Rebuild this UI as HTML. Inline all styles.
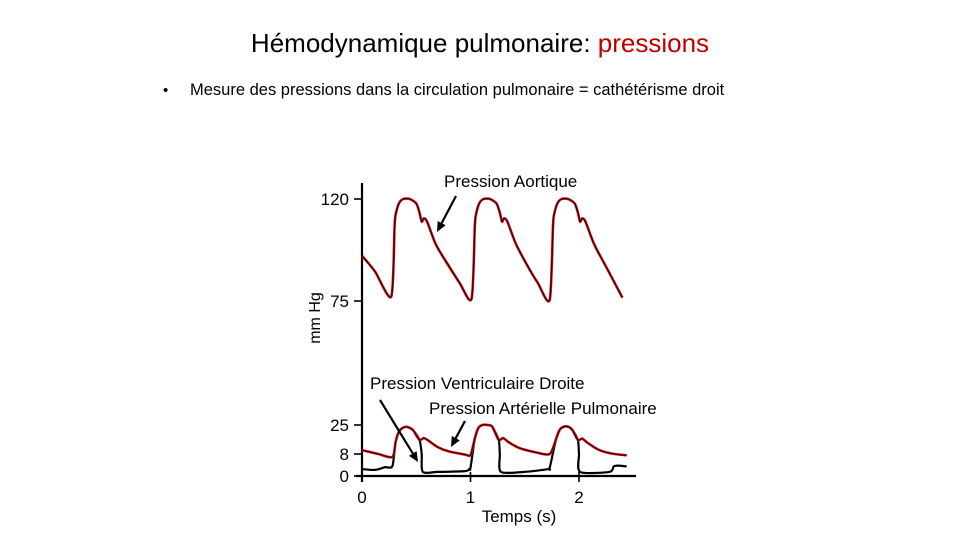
<!DOCTYPE html>
<html><head><meta charset="utf-8">
<style>
html,body{margin:0;padding:0;background:#fff;}
body{width:960px;height:540px;position:relative;overflow:hidden;font-family:"Liberation Sans",sans-serif;}
.title{position:absolute;top:28px;left:0;width:960px;text-align:center;font-size:26px;color:#000;}
.title span{color:#c00000;}
.bullet{position:absolute;left:163px;top:82px;font-size:15px;}
.btext{position:absolute;left:190px;top:81px;font-size:16.5px;}
svg{position:absolute;left:0;top:0;}
</style></head><body>
<div class="title">Hémodynamique pulmonaire: <span>pressions</span></div>
<div class="bullet">•</div>
<div class="btext">Mesure des pressions dans la circulation pulmonaire = cathétérisme droit</div>
<svg id="chart" width="960" height="540"></svg>
<script>
// Data
const xTicks = [0, 1, 2];
const yTicksLow = [0, 8, 25];
const yTicksHigh = [75, 120];
const aoTime = [0,0.12,0.27,0.30,0.31,0.34,0.38,0.44,0.50,0.53,0.55,0.57,0.60,0.68,0.78,0.90,1.01,
 1.04,1.05,1.08,1.12,1.18,1.24,1.27,1.29,1.31,1.34,1.42,1.52,1.62,1.73,
 1.76,1.77,1.80,1.84,1.90,1.96,1.99,2.01,2.03,2.06,2.14,2.24,2.40];
const aoVal = [95,88,77,108,113,118,120,120,118,114,110,111.5,110,100,92,83,76,
 108,113,118,120,120,118,114,110,111.5,110,100,91,83,75.5,
 108,113,118,120,120,118,114,110,111.5,110,100,91,76.5];
const paTime = [0,0.15,0.28,0.31,0.34,0.38,0.42,0.47,0.53,0.57,0.62,0.70,0.80,0.95,1.0,1.04,1.07,1.11,1.16,1.20,1.26,1.30,1.35,1.45,1.60,1.73,1.79,1.82,1.86,1.90,1.94,1.99,2.03,2.08,2.18,2.30,2.44];
const paVal = [10.3,8,6.9,15,21,23.5,23.8,22,16.2,17.4,15.5,12,9.5,7.8,7.6,17,23,25,25,24,16.2,17.4,15,11.5,9,8,17,22,24,24,22,16.2,17,14.5,10.5,8.3,7.5];
const rvTime = [0,0.12,0.21,0.28,0.31,0.34,0.38,0.42,0.47,0.53,0.55,0.56,0.70,0.95,0.99,1.0,1.04,1.07,1.11,1.16,1.20,1.26,1.27,1.28,1.50,1.72,1.73,1.79,1.82,1.86,1.90,1.94,1.99,2.0,2.01,2.28,2.32,2.36,2.44];
const rvVal = [2.5,2.2,3.2,3.6,15,21,23.5,23.8,22,16.2,8,1.5,1.5,1.8,2.5,3,17,23,25,25,24,16.2,8,1.5,1.5,2.5,3,17,22,24,24,22,16.2,8,1.5,1.5,3.5,3.8,3.5];
const svg = document.getElementById('chart');
const NS = 'http://www.w3.org/2000/svg';
const x0 = 362, pxPerSec = 108.5;
function xs(t){ return x0 + t * pxPerSec; }
function ysLow(v){
  const vs=[0,8,25], ps=[476,454,425];
  if(v<=8) return ps[0]+(v-vs[0])*(ps[1]-ps[0])/(vs[1]-vs[0]);
  return ps[1]+(v-vs[1])*(ps[2]-ps[1])/(vs[2]-vs[1]);
}
function ysHigh(v){ return 301 + (v-75)*(199-301)/(120-75); }
function el(tag, attrs){ const e=document.createElementNS(NS,tag); for(const k in attrs) e.setAttribute(k,attrs[k]); svg.appendChild(e); return e; }
function txt(s,x,y,size,anchor){ const t=el('text',{x:x,y:y,'font-size':size,'text-anchor':anchor||'start','font-family':'Liberation Sans, Arial, sans-serif',fill:'#000'}); t.textContent=s; return t; }
function pathD(ts,vs,ys){
  const P=ts.map((t,i)=>[xs(t),ys(vs[i])]);
  let d='M'+P[0][0].toFixed(1)+' '+P[0][1].toFixed(1);
  const k=1/8;
  for(let i=0;i<P.length-1;i++){
    const p0=P[i-1]||P[i], p1=P[i], p2=P[i+1], p3=P[i+2]||P[i+1];
    const c1=[p1[0]+(p2[0]-p0[0])*k, p1[1]+(p2[1]-p0[1])*k];
    const c2=[p2[0]-(p3[0]-p1[0])*k, p2[1]-(p3[1]-p1[1])*k];
    d+=' C'+c1[0].toFixed(1)+' '+c1[1].toFixed(1)+' '+c2[0].toFixed(1)+' '+c2[1].toFixed(1)+' '+p2[0].toFixed(1)+' '+p2[1].toFixed(1);
  }
  return d;
}

// axes
let a=el('line',{x1:362,y1:183,x2:362,y2:482,stroke:'#000','stroke-width':2.2});
 
a=el('line',{x1:356,y1:476,x2:636,y2:476,stroke:'#000','stroke-width':2.2});
 
xTicks.forEach(v=>{
  const l=el('line',{x1:xs(v),y1:472,x2:xs(v),y2:482,stroke:'#000','stroke-width':1.6});
   
  const t=txt(String(v),xs(v),503,17,'middle');
   
});
yTicksLow.forEach(v=>{
  const l=el('line',{x1:354,y1:ysLow(v),x2:362,y2:ysLow(v),stroke:'#000','stroke-width':1.6});
   
  const t=txt(String(v),349,ysLow(v)+6,17,'end');
   
});
yTicksHigh.forEach(v=>{
  const l=el('line',{x1:354,y1:ysHigh(v),x2:362,y2:ysHigh(v),stroke:'#000','stroke-width':1.6});
   
  const t=txt(String(v),349,ysHigh(v)+6,17,'end');
   
});
let t=txt('mm Hg',0,0,16,'middle');
t.setAttribute('transform','translate(320,318) rotate(-90)');
 
t=txt('Temps (s)',519,522,17,'middle');
 

// series
let p=el('path',{d:pathD(aoTime,aoVal,ysHigh),fill:'none',stroke:'#e8101e','stroke-width':2.6,'stroke-linejoin':'round'});
 
p=el('path',{d:pathD(aoTime,aoVal,ysHigh),fill:'none',stroke:'#200','stroke-width':1.2,'stroke-linejoin':'round'});
 
p=el('path',{d:pathD(rvTime,rvVal,ysLow),fill:'none',stroke:'#000','stroke-width':2.2,'stroke-linejoin':'round'});
 
p=el('path',{d:pathD(paTime,paVal,ysLow),fill:'none',stroke:'#e8101e','stroke-width':2.6,'stroke-linejoin':'round'});
 
p=el('path',{d:pathD(paTime,paVal,ysLow),fill:'none',stroke:'#200','stroke-width':1.1,'stroke-linejoin':'round'});
 

// annotations
function arrow(x1,y1,x2,y2,name){
  const g=el('g',{});
   
  const ang=Math.atan2(y2-y1,x2-x1), L=10, W=4.5;
  const bx=x2-L*Math.cos(ang), by=y2-L*Math.sin(ang);
  const l=document.createElementNS(NS,'line');
  l.setAttribute('x1',x1);l.setAttribute('y1',y1);l.setAttribute('x2',bx);l.setAttribute('y2',by);
  l.setAttribute('stroke','#000');l.setAttribute('stroke-width',2.2);
  g.appendChild(l);
  const h=document.createElementNS(NS,'polygon');
  h.setAttribute('points',`${x2},${y2} ${bx+W*Math.sin(ang)},${by-W*Math.cos(ang)} ${bx-W*Math.sin(ang)},${by+W*Math.cos(ang)}`);
  h.setAttribute('fill','#000'); g.appendChild(h);
}
t=txt('Pression Aortique',444,187,17);
 
arrow(456,196,437,232,'aortic-arrow');
t=txt('Pression Ventriculaire Droite',370,389,17);
 
arrow(380,400,418,462,'rv-arrow');
t=txt('Pression Artérielle Pulmonaire',429,414,17);
 
arrow(465,421,451,447,'pa-arrow');
</script>
</body></html>
